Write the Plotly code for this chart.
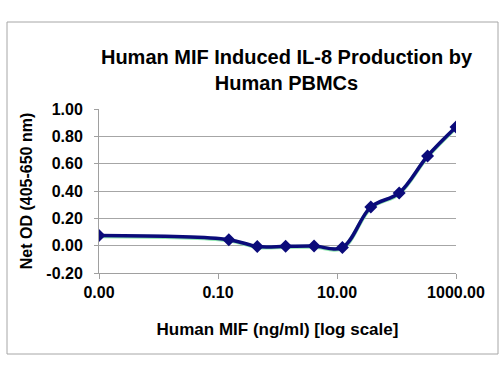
import plotly.graph_objects as go

conc = [0.001, 0.152, 0.457, 1.37, 4.12, 12.3, 37.0, 111.0, 333.0, 1000.0]
od = [0.074, 0.044, -0.006, -0.005, -0.003, -0.014, 0.283, 0.386, 0.656, 0.868]

x_tickvals = [0.001, 0.1, 10, 1000]
x_ticktext = ["0.00", "0.10", "10.00", "1000.00"]
y_tickvals = [-0.2, 0.0, 0.2, 0.4, 0.6, 0.8, 1.0]
y_ticktext = ["-0.20", "0.00", "0.20", "0.40", "0.60", "0.80", "1.00"]

FONT = "Liberation Sans, Arial, sans-serif"

fig = go.Figure()
# soft green shadow under the line
fig.add_trace(go.Scatter(
    x=conc, y=[v - 0.005 for v in od], mode="lines",
    line=dict(color="#90e8b0", width=4, shape="spline", smoothing=1.0),
    hoverinfo="skip", showlegend=False))
fig.add_trace(go.Scatter(
    x=conc, y=od, mode="lines+markers",
    line=dict(color="#0b0b7a", width=3.5, shape="spline", smoothing=1.0),
    marker=dict(symbol="diamond", size=10, color="#0b0b7a"),
    showlegend=False))

W, H = 500, 375
l, r, t, b = 99, 44, 109, 102
pw, ph = W - l - r, H - t - b

def px_x(p):
    return (p - l) / pw

def px_y(p):
    return (H - b - p) / ph

fig.add_shape(type="rect", xref="paper", yref="paper",
              x0=px_x(7), x1=px_x(498), y0=px_y(354), y1=px_y(22),
              line=dict(color="#a6a6a6", width=1), fillcolor="rgba(0,0,0,0)",
              layer="below")

fig.update_layout(
    width=W, height=H,
    margin=dict(l=l, r=r, t=t, b=b),
    paper_bgcolor="white", plot_bgcolor="white",
    font=dict(family=FONT, color="black"),
    title=dict(text="<b>Human MIF Induced IL-8 Production by<br>Human PBMCs</b>",
               font=dict(size=20, family=FONT, color="black"),
               x=px_x(286.5), xref="paper", xanchor="center",
               y=1 - 64 / H, yanchor="middle"),
    xaxis=dict(type="log", range=[-3, 3], tickvals=x_tickvals, ticktext=x_ticktext,
               showgrid=False, zeroline=False,
               showline=True, linecolor="#a0a0a0", linewidth=1,
               ticks="outside", ticklen=5, tickcolor="#a0a0a0",
               tickfont=dict(size=16, family=FONT, color="black", weight="bold"),
               title=dict(text="<b>Human MIF (ng/ml) [log scale]</b>",
                          font=dict(size=17, family=FONT, color="black"),
                          standoff=22)),
    yaxis=dict(range=[-0.2, 1.0], tickvals=y_tickvals, ticktext=y_ticktext,
               showgrid=True, gridcolor="#a6a6a6", gridwidth=1, zeroline=False,
               showline=True, linecolor="#a0a0a0", linewidth=1,
               ticks="outside", ticklen=4, tickcolor="#a0a0a0",
               ticklabelstandoff=8,
               tickfont=dict(size=16, family=FONT, color="black", weight="bold"),
               title=dict(text="<b>Net OD (405-650 nm)</b>",
                          font=dict(size=16, family=FONT, color="black"),
                          standoff=9)),
)

fig.write_html("out.html", config={"displayModeBar": False},
               post_script="document.body.style.margin='0';")
